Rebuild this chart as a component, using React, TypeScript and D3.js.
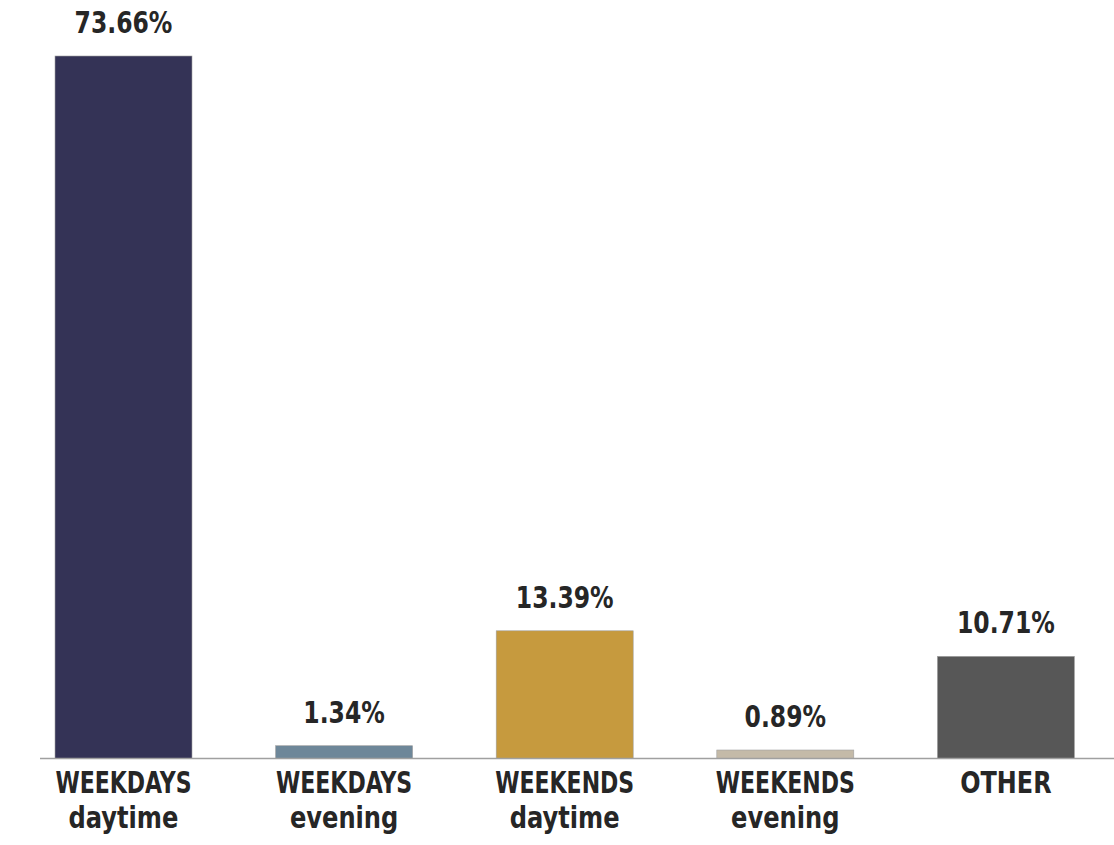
import React from "react";
import * as d3 from "d3";

const categories = ["WEEKDAYS daytime", "WEEKDAYS evening", "WEEKENDS daytime", "WEEKENDS evening", "OTHER"];
const line1 = ["WEEKDAYS", "WEEKDAYS", "WEEKENDS", "WEEKENDS", "OTHER"];
const line2 = ["daytime", "evening", "daytime", "evening", ""];
const values = [73.66, 1.34, 13.39, 0.89, 10.71];
const colors = ["#343356", "#6e8799", "#c69a3e", "#c4baa8", "#575757"];

const W = 1114;
const H = 845;
const baseY = 758.5;
const FONT = "'DejaVu Sans Condensed', 'DejaVu Sans', sans-serif";
const TXT = "#262626";

export default function App() {
  const x = d3.scaleBand<string>().domain(categories).range([13.2, 1116.2]).paddingInner(0.379).paddingOuter(0.1895);
  const y = d3.scaleLinear().domain([0, 73.66]).range([baseY, 56]);
  return (
    <svg width={W} height={H} style={{ position: "absolute", left: 0, top: 0, background: "#fff" }}>
      {categories.map((c, i) => {
        const bx = x(c)!;
        const bw = x.bandwidth();
        const cx = bx + bw / 2;
        return (
          <g key={c}>
            <rect x={bx} y={y(values[i])} width={bw} height={baseY - y(values[i])} fill={colors[i]} stroke="#a0a0a0" strokeWidth={0.6} />
            <text transform={`translate(${cx},${y(values[i]) - 23}) scale(0.87,1)`} textAnchor="middle" fontFamily={FONT} fontWeight="bold" fontSize={30} fill={TXT}>
              {values[i].toFixed(2)}%
            </text>
            <text transform={`translate(${cx},793) scale(${line1[i] === "OTHER" ? 0.9 : 0.83},1)`} textAnchor="middle" fontFamily={FONT} fontWeight="bold" fontSize={29.5} fill={TXT}>
              {line1[i]}
            </text>
            {line2[i] && (
              <text transform={`translate(${cx},828) scale(0.91,1)`} textAnchor="middle" fontFamily={FONT} fontWeight="bold" fontSize={29.5} fill={TXT}>
                {line2[i]}
              </text>
            )}
          </g>
        );
      })}
      <line x1={40} x2={W} y1={baseY} y2={baseY} stroke="#a0a0a0" strokeWidth={1.5} />
    </svg>
  );
}
